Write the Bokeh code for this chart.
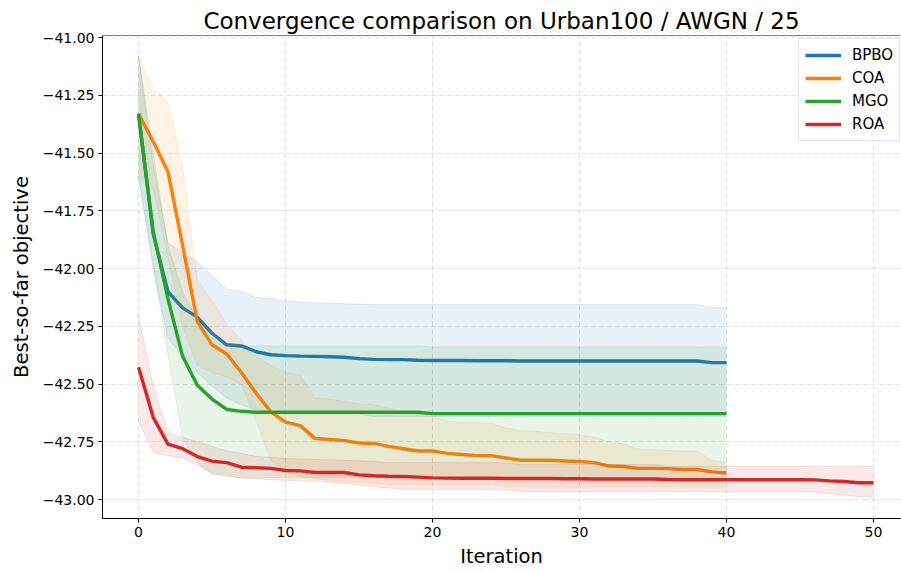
from bokeh.plotting import figure
from bokeh.models import Range1d, FixedTicker, CustomJSTickFormatter, Span, Legend, LegendItem
from bokeh.embed import file_html
from bokeh.resources import INLINE

# ---------------- data ----------------
iters_40 = list(range(41))
iters_50 = list(range(51))

bpbo_mean = [-41.33, -41.85, -42.10, -42.17, -42.21, -42.28, -42.33, -42.335, -42.36, -42.373,
             -42.377, -42.379, -42.38, -42.382, -42.384, -42.39, -42.393, -42.394, -42.394, -42.397,
             -42.398, -42.398, -42.398, -42.399, -42.399, -42.399, -42.40, -42.40, -42.40, -42.40,
             -42.40, -42.40, -42.40, -42.40, -42.40, -42.40, -42.40, -42.40, -42.40, -42.407, -42.407]
bpbo_hi = [-41.08, -41.55, -41.89, -41.93, -41.97, -42.03, -42.09, -42.10, -42.125, -42.13,
           -42.14, -42.145, -42.148, -42.15, -42.152, -42.154, -42.156, -42.156, -42.156, -42.156,
           -42.156, -42.156, -42.156, -42.156, -42.156, -42.156, -42.156, -42.156, -42.156, -42.156,
           -42.156, -42.156, -42.156, -42.156, -42.156, -42.156, -42.156, -42.156, -42.156, -42.17, -42.17]
bpbo_lo = [-41.60, -42.00, -42.30, -42.38, -42.45, -42.51, -42.56, -42.59, -42.61, -42.62,
           -42.63, -42.63, -42.63, -42.63, -42.63, -42.63, -42.64, -42.64, -42.64, -42.64,
           -42.64, -42.64, -42.64, -42.64, -42.64, -42.64, -42.64, -42.64, -42.64, -42.64,
           -42.64, -42.64, -42.64, -42.64, -42.64, -42.64, -42.64, -42.64, -42.64, -42.64, -42.64]

coa_mean = [-41.33, -41.45, -41.58, -41.90, -42.23, -42.33, -42.37, -42.45, -42.54, -42.62,
            -42.665, -42.68, -42.735, -42.74, -42.745, -42.755, -42.757, -42.77, -42.78, -42.79,
            -42.79, -42.80, -42.805, -42.81, -42.81, -42.82, -42.83, -42.83, -42.83, -42.833,
            -42.835, -42.84, -42.855, -42.857, -42.865, -42.865, -42.866, -42.87, -42.87, -42.88, -42.885]
coa_hi = [-41.08, -41.22, -41.28, -41.56, -42.05, -42.14, -42.24, -42.31, -42.38, -42.42,
          -42.45, -42.46, -42.56, -42.565, -42.575, -42.585, -42.59, -42.605, -42.62, -42.63,
          -42.64, -42.66, -42.665, -42.668, -42.67, -42.69, -42.70, -42.705, -42.71, -42.715,
          -42.72, -42.73, -42.75, -42.76, -42.78, -42.785, -42.787, -42.79, -42.79, -42.83, -42.84]
coa_lo = [-41.60, -41.65, -41.95, -42.25, -42.42, -42.45, -42.47, -42.50, -42.66, -42.83,
          -42.88, -42.90, -42.91, -42.915, -42.92, -42.925, -42.93, -42.935, -42.935, -42.935,
          -42.935, -42.935, -42.935, -42.935, -42.935, -42.945, -42.945, -42.945, -42.945, -42.945,
          -42.945, -42.945, -42.945, -42.945, -42.945, -42.945, -42.945, -42.945, -42.945, -42.945, -42.945]

mgo_mean = [-41.33, -41.84, -42.13, -42.38, -42.505, -42.565, -42.61, -42.618, -42.622, -42.622,
            -42.622, -42.622, -42.622, -42.622, -42.622, -42.622, -42.622, -42.622, -42.622, -42.622,
            -42.628, -42.628, -42.628, -42.628, -42.628, -42.628, -42.628, -42.628, -42.628, -42.628,
            -42.628, -42.628, -42.628, -42.628, -42.628, -42.628, -42.628, -42.628, -42.628, -42.628, -42.628]
mgo_hi = [-41.08, -41.50, -41.90, -42.10, -42.22, -42.30, -42.33, -42.335, -42.335, -42.335,
          -42.335, -42.335, -42.335, -42.335, -42.335, -42.335, -42.335, -42.335, -42.335, -42.335,
          -42.34, -42.34, -42.34, -42.34, -42.34, -42.34, -42.34, -42.34, -42.34, -42.34,
          -42.34, -42.34, -42.34, -42.34, -42.34, -42.34, -42.34, -42.34, -42.34, -42.34, -42.34]
mgo_lo = [-41.60, -41.98, -42.37, -42.73, -42.84, -42.89, -42.90, -42.905, -42.905, -42.905,
          -42.905, -42.905, -42.905, -42.905, -42.905, -42.905, -42.905, -42.905, -42.905, -42.905,
          -42.905, -42.905, -42.905, -42.905, -42.905, -42.905, -42.905, -42.905, -42.905, -42.905,
          -42.905, -42.905, -42.905, -42.905, -42.905, -42.905, -42.905, -42.905, -42.905, -42.905, -42.905]

roa_mean = [-42.427, -42.644, -42.76, -42.78, -42.814, -42.834, -42.84, -42.86, -42.862, -42.865,
            -42.874, -42.876, -42.883, -42.883, -42.883, -42.893, -42.897, -42.899, -42.90, -42.903,
            -42.906, -42.907, -42.908, -42.908, -42.908, -42.909, -42.909, -42.909, -42.909, -42.91,
            -42.91, -42.911, -42.911, -42.911, -42.911, -42.911, -42.913, -42.914, -42.914, -42.914,
            -42.914, -42.914, -42.914, -42.914, -42.914, -42.914, -42.915, -42.919, -42.922, -42.927, -42.927]
roa_hi = [-42.20, -42.51, -42.71, -42.73, -42.75, -42.77, -42.79, -42.80, -42.813, -42.817,
          -42.822, -42.824, -42.826, -42.828, -42.83, -42.832, -42.835, -42.84, -42.84, -42.84,
          -42.84, -42.84, -42.84, -42.84, -42.84, -42.84, -42.848, -42.848, -42.848, -42.848,
          -42.848, -42.848, -42.848, -42.848, -42.848, -42.848, -42.856, -42.856, -42.856, -42.856,
          -42.856, -42.856, -42.856, -42.856, -42.856, -42.856, -42.856, -42.856, -42.856, -42.856, -42.856]
roa_lo = [-42.66, -42.795, -42.81, -42.82, -42.85, -42.885, -42.895, -42.908, -42.91, -42.914,
          -42.918, -42.919, -42.92, -42.925, -42.93, -42.937, -42.945, -42.95, -42.957, -42.957,
          -42.957, -42.957, -42.957, -42.957, -42.957, -42.957, -42.965, -42.965, -42.965, -42.965,
          -42.965, -42.965, -42.965, -42.965, -42.965, -42.965, -42.965, -42.965, -42.965, -42.965,
          -42.965, -42.965, -42.965, -42.965, -42.965, -42.965, -42.968, -42.975, -42.98, -42.988, -42.99]

methods = ["BPBO", "COA", "MGO", "ROA"]
colors = ["#1f77b4", "#ff7f0e", "#2ca02c", "#d62728"]
x_ticks = [0, 10, 20, 30, 40, 50]
y_ticks = [-43.0, -42.75, -42.5, -42.25, -42.0, -41.75, -41.5, -41.25, -41.0]

series = [
    (iters_40, bpbo_mean, bpbo_lo, bpbo_hi),
    (iters_40, coa_mean, coa_lo, coa_hi),
    (iters_40, mgo_mean, mgo_lo, mgo_hi),
    (iters_50, roa_mean, roa_lo, roa_hi),
]

FONT = "DejaVu Sans"
Y_TOP = -40.991

p = figure(width=901, height=571, output_backend="svg", toolbar_location=None,
           x_range=Range1d(-2.45, 51.84), y_range=Range1d(-43.082, Y_TOP),
           min_border_left=102, min_border_right=1, min_border_top=35, min_border_bottom=53)

p.title.text = "Convergence comparison on Urban100 / AWGN / 25"
p.title.align = "center"
p.title.text_font = FONT
p.title.text_font_size = "23px"
p.title.text_font_style = "normal"
p.title.text_color = "black"
p.title.standoff = 3

p.outline_line_color = None
p.background_fill_color = "white"
p.border_fill_color = "white"

for ax in (p.xaxis, p.yaxis):
    ax.axis_line_color = "black"
    ax.axis_line_width = 1
    ax.major_tick_line_color = "black"
    ax.major_tick_out = 4
    ax.major_tick_in = 0
    ax.minor_tick_out = 0
    ax.minor_tick_in = 0
    ax.major_label_text_font = FONT
    ax.major_label_text_font_size = "14px"
    ax.major_label_text_color = "black"
    ax.axis_label_text_font = FONT
    ax.axis_label_text_font_size = "19.5px"
    ax.axis_label_text_font_style = "normal"
    ax.axis_label_text_color = "black"
    ax.major_label_standoff = 4

p.xaxis.ticker = FixedTicker(ticks=x_ticks)
p.yaxis.ticker = FixedTicker(ticks=y_ticks)
p.yaxis.formatter = CustomJSTickFormatter(
    code="return (tick < 0 ? '\u2212' : '') + Math.abs(tick).toFixed(2);")
p.xaxis.axis_label = "Iteration"
p.yaxis.axis_label = "Best-so-far objective"
p.xaxis.axis_label_standoff = 5
p.yaxis.axis_label_standoff = 7

for g in (p.xgrid, p.ygrid):
    g.grid_line_color = "#b0b0b0"
    g.grid_line_alpha = 0.35
    g.grid_line_dash = "5 3"
    g.grid_line_width = 1

items = []
for name, col, (xs, m, lo, hi) in zip(methods, colors, series):
    p.varea(x=xs, y1=lo, y2=hi, fill_color=col, fill_alpha=0.1)
    p.line(xs, lo, line_color=col, line_alpha=0.12, line_width=1)
    p.line(xs, hi, line_color=col, line_alpha=0.12, line_width=1)
    r = p.line(xs, m, line_color=col, line_width=3.4)
    items.append(LegendItem(label=name, renderers=[r]))

p.add_layout(Span(location=Y_TOP, dimension="width", line_color="black", line_width=1.2))

legend = Legend(items=items, location=(696, 377))
legend.label_text_font = FONT
legend.label_text_font_size = "15px"
legend.label_text_color = "black"
legend.glyph_width = 36
legend.glyph_height = 20
legend.label_height = 20
legend.label_standoff = 11
legend.spacing = 3
legend.padding = 6
legend.margin = 0
legend.border_line_color = "#cccccc"
legend.border_line_width = 1
legend.background_fill_alpha = 0.85
p.add_layout(legend)

open("out.html", "w").write(file_html(p, INLINE))
